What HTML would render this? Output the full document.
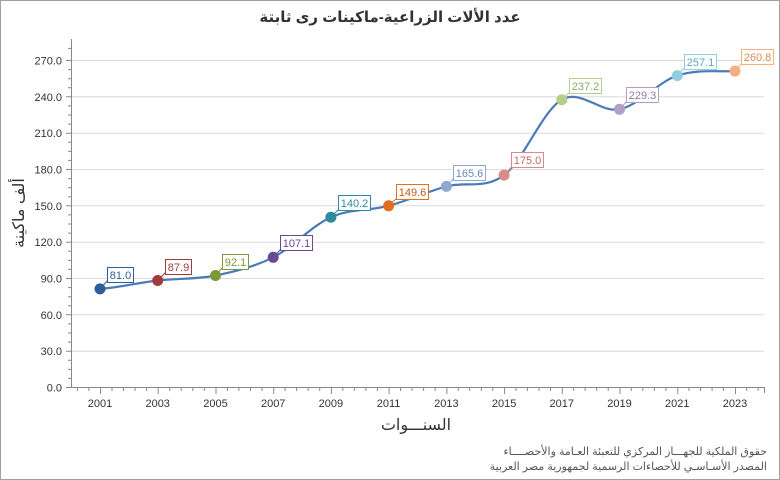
<!DOCTYPE html>
<html><head><meta charset="utf-8"><style>
body{margin:0;background:#fff}
svg{display:block}
text{font-family:"Liberation Sans","DejaVu Sans",sans-serif}
</style></head><body>
<svg width="780" height="480" xmlns="http://www.w3.org/2000/svg">
<rect x="0.5" y="0.5" width="779" height="479" fill="#fff" stroke="#a0a0a0"/>
<text x="390" y="22" text-anchor="middle" font-size="15" font-weight="bold" fill="#333">عدد الألات الزراعية-ماكينات رى ثابتة</text>
<g stroke="#dcdcdc" stroke-width="1">
<line x1="72" x2="764" y1="60.5" y2="60.5"/><line x1="72" x2="764" y1="96.8" y2="96.8"/>
<line x1="72" x2="764" y1="133.2" y2="133.2"/><line x1="72" x2="764" y1="169.5" y2="169.5"/>
<line x1="72" x2="764" y1="205.8" y2="205.8"/><line x1="72" x2="764" y1="242.2" y2="242.2"/>
<line x1="72" x2="764" y1="278.5" y2="278.5"/><line x1="72" x2="764" y1="314.8" y2="314.8"/>
<line x1="72" x2="764" y1="351.2" y2="351.2"/>
</g>
<g stroke="#888" stroke-width="1">
<line x1="71.5" y1="39" x2="71.5" y2="387.5"/>
<line x1="71" y1="387.5" x2="764" y2="387.5"/>
<line x1="764.5" y1="387" x2="764.5" y2="393"/>
</g>
<g stroke="#888" id="yt">
<path d="M66 60.5h5M66 96.8h5M66 133.2h5M66 169.5h5M66 205.8h5M66 242.2h5M66 278.5h5M66 314.8h5M66 351.2h5M66 387.5h5"/>
<path d="M68 48.4h3M68 69.6h3M68 78.7h3M68 87.8h3M68 105.9h3M68 115h3M68 124.1h3M68 142.3h3M68 151.4h3M68 160.4h3M68 178.6h3M68 187.7h3M68 196.8h3M68 214.9h3M68 224h3M68 233.1h3M68 251.3h3M68 260.4h3M68 269.4h3M68 287.6h3M68 296.7h3M68 305.8h3M68 323.9h3M68 333h3M68 342.1h3M68 360.3h3M68 369.4h3M68 378.4h3"/>
</g>
<g stroke="#888">
<path d="M100.5 388v6M158.2 388v6M216 388v6M273.7 388v6M331.4 388v6M389.1 388v6M446.9 388v6M504.6 388v6M562.3 388v6M620 388v6M677.8 388v6M735.5 388v6"/>
<path d="M77.4 388v3M88.9 388v3M112 388v3M123.5 388v3M135 388v3M146.6 388v3M169.7 388v3M181.2 388v3M192.8 388v3M204.3 388v3M227.4 388v3M238.9 388v3M250.5 388v3M262 388v3M285.1 388v3M296.6 388v3M308.2 388v3M319.7 388v3M342.8 388v3M354.3 388v3M365.9 388v3M377.4 388v3M400.5 388v3M412 388v3M423.6 388v3M435.1 388v3M458.2 388v3M469.7 388v3M481.3 388v3M492.8 388v3M515.9 388v3M527.4 388v3M539 388v3M550.5 388v3M573.6 388v3M585.1 388v3M596.7 388v3M608.2 388v3M631.3 388v3M642.8 388v3M654.4 388v3M665.9 388v3M689 388v3M700.5 388v3M712.1 388v3M723.6 388v3M746.7 388v3M758.2 388v3"/>
</g>
<g font-size="11" fill="#333" text-anchor="end">
<text x="62" y="64.5">270.0</text><text x="62" y="100.8">240.0</text><text x="62" y="137.2">210.0</text>
<text x="62" y="173.5">180.0</text><text x="62" y="209.8">150.0</text><text x="62" y="246.2">120.0</text>
<text x="62" y="282.5">90.0</text><text x="62" y="318.8">60.0</text><text x="62" y="355.2">30.0</text>
<text x="62" y="391.5">0.0</text>
</g>
<g font-size="11" fill="#333" text-anchor="middle">
<text x="100" y="407">2001</text><text x="157.7" y="407">2003</text><text x="215.5" y="407">2005</text>
<text x="273.2" y="407">2007</text><text x="330.9" y="407">2009</text><text x="388.6" y="407">2011</text>
<text x="446.4" y="407">2013</text><text x="504.1" y="407">2015</text><text x="561.8" y="407">2017</text>
<text x="619.5" y="407">2019</text><text x="677.3" y="407">2021</text><text x="735" y="407">2023</text>
</g>
<text x="416" y="430" text-anchor="middle" font-size="16" fill="#333">السنـــوات</text>
<text transform="translate(24,213) rotate(-90)" text-anchor="middle" font-size="16" fill="#333">ألف ماكينة</text>
<path d="M100,288.9 C119.2,287.5 138.5,282.7 157.7,280.5 C176.9,278.3 196.3,279.4 215.5,275.5 C234.7,271.6 254,267 273.2,257.3 C292.4,247.6 311.7,225.8 330.9,217.2 C350.1,208.6 369.4,210.9 388.6,205.8 C407.8,200.7 427.2,191.5 446.4,186.4 C465.6,181.3 484.9,189.6 504.1,175.1 C523.3,160.7 542.6,110.7 561.8,99.7 C581,88.7 600.3,113.3 619.5,109.3 C638.7,105.3 658.1,82 677.3,75.6 C696.5,69.2 715.8,71.9 735,71.1" fill="none" stroke="#4a7ab8" stroke-width="2.2"/>
<g font-size="11">
<g stroke="#2e5f9b" fill="#2e5f9b"><circle cx="100" cy="288.9" r="5.5" stroke="none"/><line x1="100" y1="288.9" x2="108" y2="280"/><rect x="107.5" y="267.5" width="26" height="15" fill="#fff"/><text x="120.5" y="279" text-anchor="middle" stroke="none">81.0</text></g>
<g stroke="#a33a3a" fill="#a33a3a"><circle cx="157.7" cy="280.5" r="5.5" stroke="none"/><line x1="157.7" y1="280.5" x2="166" y2="272"/><rect x="165.5" y="259.5" width="26" height="15" fill="#fff"/><text x="178.5" y="271" text-anchor="middle" stroke="none">87.9</text></g>
<g stroke="#7a9a3a" fill="#7a9a3a"><circle cx="215.5" cy="275.5" r="5.5" stroke="none"/><line x1="215.5" y1="275.5" x2="223" y2="267"/><rect x="222.5" y="254.5" width="26" height="15" fill="#fff"/><text x="235.5" y="266" text-anchor="middle" stroke="none">92.1</text></g>
<g stroke="#6a4a8f" fill="#6a4a8f"><circle cx="273.2" cy="257.3" r="5.5" stroke="none"/><line x1="273.2" y1="257.3" x2="281" y2="249"/><rect x="280.5" y="235.5" width="32" height="15" fill="#fff"/><text x="296.5" y="247" text-anchor="middle" stroke="none">107.1</text></g>
<g stroke="#2e8a9e" fill="#2e8a9e"><circle cx="330.9" cy="217.2" r="5.5" stroke="none"/><line x1="330.9" y1="217.2" x2="339" y2="209"/><rect x="338.5" y="195.5" width="32" height="15" fill="#fff"/><text x="354.5" y="207" text-anchor="middle" stroke="none">140.2</text></g>
<g stroke="#e07020" fill="#e07020"><circle cx="388.6" cy="205.8" r="5.5" stroke="none"/><line x1="388.6" y1="205.8" x2="397" y2="198"/><rect x="396.5" y="184.5" width="32" height="15" fill="#fff"/><text x="412.5" y="196" text-anchor="middle" stroke="none" fill="#c05a10">149.6</text></g>
<g stroke="#8fa8d0" fill="#8fa8d0"><circle cx="446.4" cy="186.4" r="5.5" stroke="none"/><line x1="446.4" y1="186.4" x2="454" y2="178"/><rect x="453.5" y="165.5" width="32" height="15" fill="#fff"/><text x="469.5" y="177" text-anchor="middle" stroke="none" fill="#6f88b8">165.6</text></g>
<g stroke="#d98a8a" fill="#d98a8a"><circle cx="504.1" cy="175.1" r="5.5" stroke="none"/><line x1="504.1" y1="175.1" x2="512" y2="167"/><rect x="511.5" y="152.5" width="32" height="15" fill="#fff"/><text x="527.5" y="164" text-anchor="middle" stroke="none" fill="#c06a6a">175.0</text></g>
<g stroke="#b5cf8a" fill="#b5cf8a"><circle cx="561.8" cy="99.7" r="5.5" stroke="none"/><line x1="561.8" y1="99.7" x2="570" y2="92"/><rect x="569.5" y="78.5" width="32" height="15" fill="#fff"/><text x="585.5" y="90" text-anchor="middle" stroke="none" fill="#8fa86a">237.2</text></g>
<g stroke="#b09fc8" fill="#b09fc8"><circle cx="619.5" cy="109.3" r="5.5" stroke="none"/><line x1="619.5" y1="109.3" x2="627" y2="101"/><rect x="626.5" y="87.5" width="32" height="15" fill="#fff"/><text x="642.5" y="99" text-anchor="middle" stroke="none" fill="#8a7aa8">229.3</text></g>
<g stroke="#8fcfe0" fill="#8fcfe0"><circle cx="677.3" cy="75.6" r="5.5" stroke="none"/><line x1="677.3" y1="75.6" x2="685" y2="67"/><rect x="684.5" y="54.5" width="32" height="15" fill="#fff"/><text x="700.5" y="66" text-anchor="middle" stroke="none" fill="#5aa8c0">257.1</text></g>
<g stroke="#f5b080" fill="#f5b080"><circle cx="735" cy="71.1" r="5.5" stroke="none"/><line x1="735" y1="71.1" x2="742" y2="63"/><rect x="741.5" y="49.5" width="32" height="15" fill="#fff"/><text x="757.5" y="61" text-anchor="middle" stroke="none" fill="#e08a50">260.8</text></g>
</g>
<text x="767" y="455" text-anchor="end" font-size="11" fill="#555">حقوق الملكية للجهـــاز المركزي للتعبئة العـامة والأحصــــاء</text>
<text x="767" y="470" text-anchor="end" font-size="11" fill="#555">المصدر الأسـاسـي للأحصاءات الرسمية لجمهورية مصر العربية</text>
</svg>
</body></html>
